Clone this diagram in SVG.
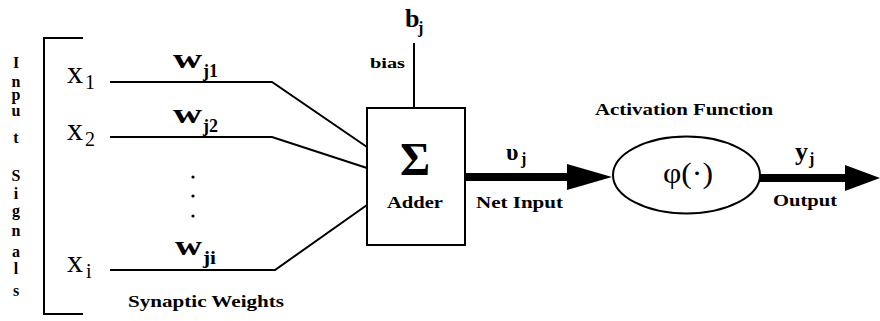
<svg xmlns="http://www.w3.org/2000/svg" width="880" height="321" viewBox="0 0 880 321">
<style>
text{font-family:"Liberation Serif","DejaVu Serif",serif;fill:#000}
.ln{fill:none;stroke:#000;stroke-width:2}
.thick{fill:none;stroke:#000;stroke-width:8}
.head{fill:#000}
.lbl{font-size:16px;font-weight:bold}
.vt{font-size:16px;font-weight:bold;text-anchor:middle}
.xv{font-size:32px}
.xs{font-size:20px}
.w{font-size:28px;font-weight:bold}
.ws{font-size:18px;font-weight:bold}
.dot{fill:#000}
</style>
<rect width="880" height="321" fill="#fff"/>

<g id="input-signals">
<path class="ln" d="M83,38 H44 V314 H83" stroke-width="2.5"/>
<text class="vt" x="16" y="68">I</text>
<text class="vt" x="16" y="87">n</text>
<text class="vt" x="16" y="100">p</text>
<text class="vt" x="16" y="116">u</text>
<text class="vt" x="16" y="143">t</text>
<text class="vt" x="16" y="181">S</text>
<text class="vt" x="16" y="199">i</text>
<text class="vt" x="16" y="216">g</text>
<text class="vt" x="16" y="236">n</text>
<text class="vt" x="16" y="257">a</text>
<text class="vt" x="16" y="274">l</text>
<text class="vt" x="16" y="296">s</text>
</g>

<g id="x1"><text class="xv" x="67" y="83">x</text><text class="xs" x="85" y="89">1</text></g>
<g id="x2"><text class="xv" x="67" y="140">x</text><text class="xs" x="85" y="146">2</text></g>
<g id="xi"><text class="xv" x="67" y="272">x</text><text class="xs" x="86" y="278">i</text></g>

<g id="weights">
<text class="w" x="173" y="68" textLength="29" lengthAdjust="spacingAndGlyphs">w</text><text class="ws" x="203" y="77" textLength="15" lengthAdjust="spacingAndGlyphs">j1</text>
<text class="w" x="173" y="123" textLength="29" lengthAdjust="spacingAndGlyphs">w</text><text class="ws" x="203" y="132" textLength="15" lengthAdjust="spacingAndGlyphs">j2</text>
<text class="w" x="175" y="255" textLength="27" lengthAdjust="spacingAndGlyphs">w</text><text class="ws" x="203" y="264" textLength="13" lengthAdjust="spacingAndGlyphs">ji</text>
<circle class="dot" cx="193" cy="177" r="1.6"/>
<circle class="dot" cx="193" cy="196" r="1.6"/>
<circle class="dot" cx="193" cy="216" r="1.6"/>
<text class="lbl" x="128" y="307" font-size="17" textLength="156" lengthAdjust="spacingAndGlyphs">Synaptic Weights</text>
</g>

<g id="bias">
<text x="405" y="27" font-size="26" font-weight="bold">b</text><text x="418" y="33" font-size="16" font-weight="bold">j</text>
<text x="370" y="68" font-size="14" font-weight="bold" textLength="35" lengthAdjust="spacingAndGlyphs">bias</text>
</g>

<g id="adder">
<rect class="ln" x="367" y="108" width="98" height="137"/>
<text x="415" y="175" font-size="46" font-weight="bold" text-anchor="middle">Σ</text>
<text class="lbl" x="387" y="208" textLength="56" lengthAdjust="spacingAndGlyphs">Adder</text>
</g>

<g id="net-input">
<text x="506" y="160" font-size="24" font-weight="bold">υ</text><text x="521" y="164" font-size="16" font-weight="bold">j</text>
<text class="lbl" x="476" y="208" textLength="87" lengthAdjust="spacingAndGlyphs">Net Input</text>
</g>

<g id="activation">
<ellipse class="ln" cx="686.5" cy="175" rx="73.5" ry="38.5"/>
<text x="663" y="183" font-size="30" textLength="50" lengthAdjust="spacingAndGlyphs">φ(·)</text>
<text class="lbl" x="595" y="115" font-size="15" textLength="178" lengthAdjust="spacingAndGlyphs">Activation Function</text>
</g>

<g id="output">
<text x="795" y="160" font-size="26" font-weight="bold">y</text><text x="809" y="164" font-size="16" font-weight="bold">j</text>
<text class="lbl" x="773" y="206" textLength="64" lengthAdjust="spacingAndGlyphs">Output</text>
</g>

<g id="connectors">
<polyline class="ln" points="110,82 272,82 367,147"/>
<polyline class="ln" points="110,137 272,137 367,168"/>
<polyline class="ln" points="110,270 275,270 367,205"/>
<line class="ln" x1="414" y1="43" x2="414" y2="108"/>
<line class="thick" x1="465" y1="177" x2="575" y2="177"/>
<polygon class="head" points="567,164 612,177 567,190"/>
<line class="thick" x1="760" y1="178" x2="852" y2="178"/>
<polygon class="head" points="845,165 880,178 845,191"/>
</g>
</svg>
